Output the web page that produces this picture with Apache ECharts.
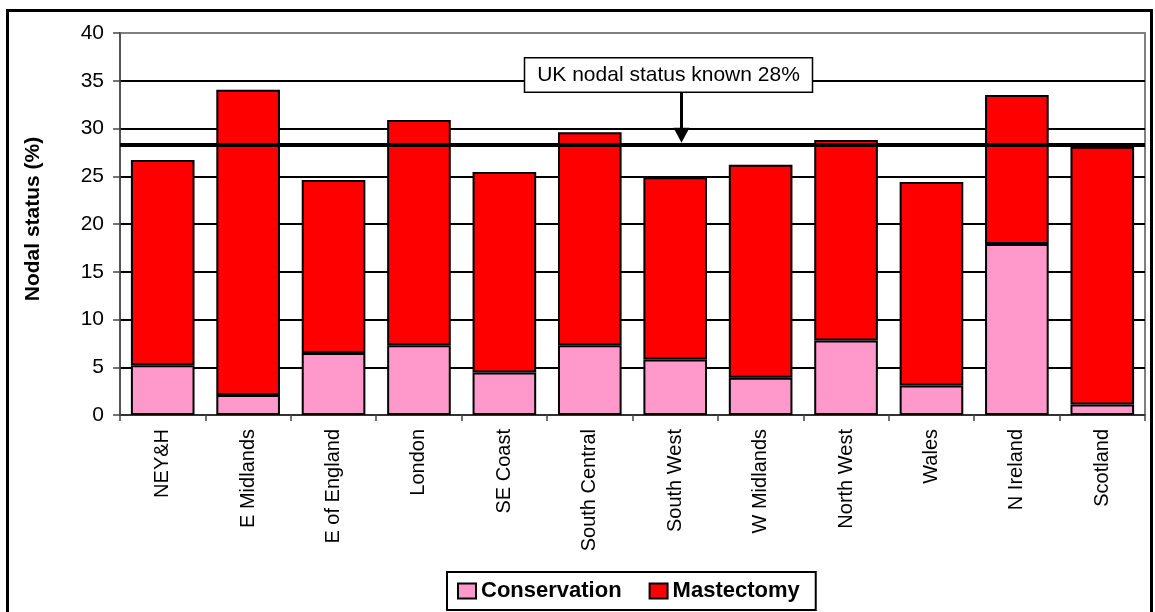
<!DOCTYPE html>
<html>
<head>
<meta charset="utf-8">
<script src="https://cdn.jsdelivr.net/npm/echarts@6/dist/echarts.min.js"></script>
<style>
  html, body { margin: 0; padding: 0; background: #fff; }
  #container { width: 1155px; height: 612px; }
</style>
</head>
<body>
<div id="container"></div>
<script>
var regions = ['NEY&H', 'E Midlands', 'E of England', 'London', 'SE Coast', 'South Central',
    'South West', 'W Midlands', 'North West', 'Wales', 'N Ireland', 'Scotland'];
var conservation = [5.2, 2.1, 6.5, 7.3, 4.45, 7.3, 5.8, 3.9, 7.8, 3.1, 17.9, 1.1];
var mastectomy = [21.5, 31.95, 18.1, 23.6, 21.0, 22.3, 19.1, 22.3, 21.0, 21.3, 15.6, 27.0];
var yTicks = [0, 5, 10, 15, 20, 25, 30, 35, 40];
var ukLine = 28.3;
var ukText = 'UK nodal status known 28%';

var FONT = 'Liberation Sans, Arial, sans-serif';

var dom = document.getElementById('container');
var myChart = echarts.init(dom);

// gridline colours: black inside, grey on the top edge
var splitColors = yTicks.map(function (t, i) { return i === yTicks.length - 1 ? '#808080' : '#000'; });

var option = {
    animation: false,
    backgroundColor: '#fff',
    grid: {
        left: 120, right: 10, top: 33, bottom: 197,
        show: true, borderColor: '#808080', borderWidth: 2
    },
    legend: {
        bottom: 2, left: 447,
        padding: [8, 16, 8, 10],
        borderColor: '#000', borderWidth: 2,
        icon: 'rect',
        itemWidth: 18, itemHeight: 15, itemGap: 27,
        textStyle: { fontFamily: FONT, fontSize: 22, fontWeight: 'bold', color: '#000' },
        data: ['Conservation', 'Mastectomy']
    },
    xAxis: {
        type: 'category',
        data: regions,
        axisLine: { lineStyle: { color: '#444', width: 1.5 } },
        axisTick: { show: true, length: 6, lineStyle: { color: '#444', width: 1.5 } },
        axisLabel: { rotate: 90, margin: 14, fontFamily: FONT, fontSize: 20, color: '#000' }
    },
    yAxis: {
        type: 'value',
        min: 0, max: 40, interval: 5,
        name: 'Nodal status (%)',
        nameLocation: 'middle',
        nameGap: 76,
        nameTextStyle: { fontFamily: FONT, fontSize: 21, fontWeight: 'bold', color: '#000', padding: [0, 0, 0, 10] },
        axisLine: { show: true, lineStyle: { color: '#444', width: 1.5 } },
        axisTick: { show: true, length: 7, lineStyle: { color: '#444', width: 1.5 } },
        axisLabel: { margin: 16, fontFamily: FONT, fontSize: 21, color: '#000' },
        splitLine: { show: true, lineStyle: { color: splitColors, width: 2 } }
    },
    series: [{
        name: 'Conservation',
        type: 'bar',
        stack: 'total',
        barCategoryGap: '25.5%',
        data: conservation,
        itemStyle: { color: '#FF99CC', borderColor: '#000', borderWidth: 2 }
    }, {
        name: 'Mastectomy',
        type: 'bar',
        stack: 'total',
        barCategoryGap: '25.5%',
        data: mastectomy,
        itemStyle: { color: '#FF0000', borderColor: '#000', borderWidth: 2 },
        markLine: {
            silent: true,
            symbol: 'none',
            label: { show: false },
            lineStyle: { color: '#000', width: 4, type: 'solid' },
            data: [{ yAxis: ukLine }]
        }
    }]
};
myChart.setOption(option, true);

// annotation box + arrow pointing at the UK line
var p6 = myChart.convertToPixel({ seriesIndex: 0 }, [regions[6], ukLine]);
var p7 = myChart.convertToPixel({ seriesIndex: 0 }, [regions[7], 37.4]);
var pb = myChart.convertToPixel({ seriesIndex: 0 }, [regions[7], 33.8]);
var ax = Math.round(p6[0] + (p7[0] - p6[0]) * 0.07) + 0.5;
var boxTop = p7[1], boxBottom = pb[1];
var tipY = p6[1] - 2;
var boxLeft = ax - 157, boxW = 288;

myChart.setOption({
    graphic: [{
        type: 'rect', silent: true, z: 100,
        shape: { x: 7.5, y: 10.5, width: 1144, height: 700 },
        style: { fill: 'none', stroke: '#000', lineWidth: 3 }
    }, {
        type: 'rect', silent: true, z: 100,
        shape: { x: boxLeft, y: boxTop, width: boxW, height: boxBottom - boxTop },
        style: { fill: '#fff', stroke: '#000', lineWidth: 1.5 }
    }, {
        type: 'text', silent: true, z: 101,
        style: {
            text: ukText, x: boxLeft + boxW / 2, y: (boxTop + boxBottom) / 2,
            align: 'center', verticalAlign: 'middle',
            fontFamily: FONT, fontSize: 21, fill: '#000'
        }
    }, {
        type: 'line', silent: true, z: 100,
        shape: { x1: ax, y1: boxBottom, x2: ax, y2: tipY - 12 },
        style: { stroke: '#000', lineWidth: 3 }
    }, {
        type: 'polygon', silent: true, z: 100,
        shape: { points: [[ax - 8, tipY - 15], [ax + 8, tipY - 15], [ax, tipY]] },
        style: { fill: '#000' }
    }]
});

window.onresize = function () {
    myChart.resize();
};
</script>
</body>
</html>
